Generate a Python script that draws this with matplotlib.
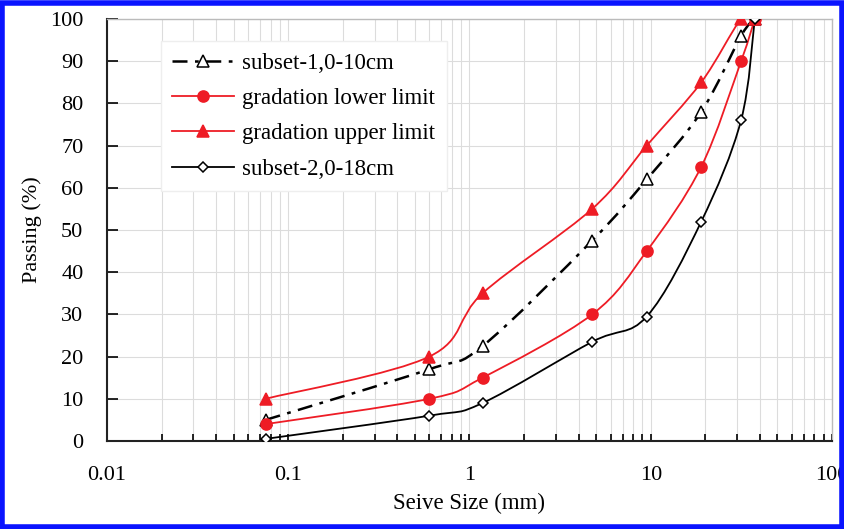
import numpy as np
import matplotlib
matplotlib.use('Agg')
import matplotlib.pyplot as plt
from matplotlib.path import Path
from matplotlib.patches import PathPatch, Rectangle
from matplotlib.lines import Line2D

plt.rcParams.update({'font.family': 'serif', 'font.serif': ['Liberation Serif', 'DejaVu Serif'],
                     'font.size': 16})

sieve = [0.075, 0.6, 1.18, 4.75, 9.5, 19, 31.5, 37.5]
subset1 = [5, 17, 22.5, 47.5, 62, 78, 96, 100]
lower = [4, 10, 15, 30, 45, 65, 90, 100]
upper = [10, 20, 35, 55, 70, 85, 100, 100]
subset2 = [0.5, 6, 9, 23.5, 29.5, 52, 76, 100]

RED = '#ee1c25'


def smooth_path(xs, ys):
    # Catmull-Rom style bezier (like spreadsheet "smoothed line"), built in log-x space
    lx = np.log10(xs)
    y = np.asarray(ys, float)
    n = len(lx)
    verts = [(xs[0], y[0])]
    codes = [Path.MOVETO]
    for i in range(n - 1):
        i0 = max(i - 1, 0)
        i3 = min(i + 2, n - 1)
        c1 = (lx[i] + (lx[i + 1] - lx[i0]) / 6, y[i] + (y[i + 1] - y[i0]) / 6)
        c2 = (lx[i + 1] - (lx[i3] - lx[i]) / 6, y[i + 1] - (y[i3] - y[i]) / 6)
        verts += [(10 ** c1[0], c1[1]), (10 ** c2[0], c2[1]), (xs[i + 1], y[i + 1])]
        codes += [Path.CURVE4] * 3
    return Path(verts, codes)


fig = plt.figure(figsize=(8.45, 5.29), dpi=100)
ax = fig.add_axes([107 / 845, 1 - 441 / 529, (832 - 107) / 845, (441 - 19) / 529])
ax.set_xscale('log')
ax.set_xlim(0.01, 100)
ax.set_ylim(0, 100)

series = [
    (subset1, 'subset-1,0-10cm', 'black', (0, (6, 3, 1.5, 3)), dict(marker='^', mfc='white', mec='black', ms=8)),
    (lower, 'gradation lower limit', RED, '-', dict(marker='o', mfc=RED, mec=RED, ms=8)),
    (upper, 'gradation upper limit', RED, '-', dict(marker='^', mfc=RED, mec=RED, ms=9)),
    (subset2, 'subset-2,0-18cm', 'black', '-', dict(marker='D', mfc='white', mec='black', ms=5.5)),
]
handles = []
for ys, lab, col, ls, mk in series:
    lw = 1.8 if ls != '-' else 1.3
    ax.add_patch(PathPatch(smooth_path(sieve, ys), fill=False, edgecolor=col, lw=lw, linestyle=ls, zorder=3))
    ax.plot(sieve, ys, linestyle='none', zorder=4, mew=1.1, **mk)
    handles.append(Line2D([], [], color=col, lw=lw, linestyle=ls, label=lab, mew=1.1, **mk))

ax.set_yticks(np.arange(0, 101, 10))
ax.grid(True, which='both', axis='x', color='#dcdcdc', lw=0.8)
ax.grid(True, which='major', axis='y', color='#dcdcdc', lw=0.8)
ax.set_axisbelow(True)
ax.tick_params(which='both', direction='in', labelsize=16)
ax.tick_params(axis='y', length=8, width=1.2, pad=17)
ax.tick_params(axis='x', which='major', length=5, width=1.2, pad=18)
ax.tick_params(axis='x', which='minor', length=5, width=1.2)
ax.xaxis.set_major_formatter(matplotlib.ticker.FuncFormatter(lambda v, p: f'{v:g}'))
ax.xaxis.set_minor_formatter(matplotlib.ticker.NullFormatter())
for s in ['left', 'bottom']:
    ax.spines[s].set_linewidth(1.5)
    ax.spines[s].set_color('#222222')
for s in ['top', 'right']:
    ax.spines[s].set_color('#bbbbbb')
    ax.spines[s].set_linewidth(1.0)

ax.set_xlabel('Seive Size (mm)', fontsize=16.5, labelpad=6)
ax.set_ylabel('Passing (%)', fontsize=16, labelpad=6)

leg = ax.legend(handles=handles, loc='upper left', bbox_to_anchor=(0.0745, 0.947), borderaxespad=0,
                fontsize=16.5, handlelength=2.7, handletextpad=0.35, framealpha=1, fancybox=False,
                edgecolor='#eeeeee', labelspacing=0.62, borderpad=0.5)

fig.patches.append(Rectangle((0.002, 0.003), 0.994, 0.992, transform=fig.transFigure,
                             fill=False, edgecolor='#0a14ff', lw=4))

plt.savefig('out.png', dpi=100)
